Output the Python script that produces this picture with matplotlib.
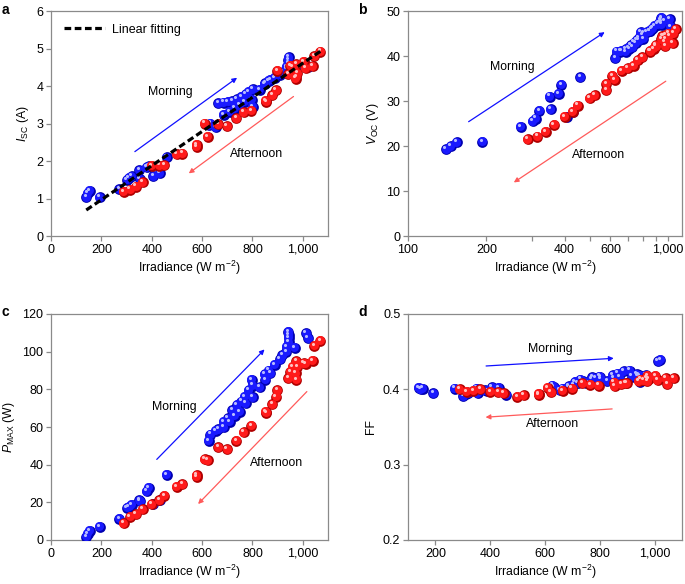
import numpy as np
import matplotlib
matplotlib.use("Agg")
import matplotlib.pyplot as plt
from matplotlib.transforms import offset_copy
from matplotlib.ticker import FixedLocator, NullFormatter

plt.rcParams['font.family'] = ['Liberation Sans', 'DejaVu Sans']
plt.rcParams['mathtext.fontset'] = 'custom'
plt.rcParams['mathtext.rm'] = 'Liberation Sans'
plt.rcParams['mathtext.it'] = 'Liberation Sans:italic'
plt.rcParams['font.size'] = 8.8

# ---------------- data ----------------
irr_morning = [140, 146, 154, 193, 271, 302, 310, 320, 351, 354, 380, 389, 407, 431, 459,
               627, 633, 654, 664, 686, 686, 703, 710, 720, 729, 739, 749, 756, 769, 773,
               786, 798, 802, 802, 828, 848, 851, 865, 871, 888, 910, 918, 934, 937, 942,
               945, 945, 945, 967, 1013, 1021]
isc_morning = [1.03, 1.14, 1.21, 1.04, 1.25, 1.50, 1.55, 1.60, 1.76, 1.51, 1.83, 1.86, 1.60, 1.67, 2.10,
               2.96, 3.00, 2.90, 3.54, 3.23, 3.56, 3.58, 3.31, 3.60, 3.40, 3.65, 3.49, 3.71, 3.58, 3.78,
               3.85, 3.63, 3.91, 3.45, 3.90, 4.05, 4.07, 4.14, 4.17, 4.22, 4.30, 4.36, 4.45, 4.51, 4.69,
               4.77, 4.60, 4.55, 4.48, 4.56, 4.50]
voc_morning = [19.3, 19.9, 20.8, 20.9, 24.3, 25.5, 26.1, 27.8, 31.0, 28.2, 31.6, 33.6, 26.5, 27.6, 35.3,
               39.5, 41.0, 41.0, 41.2, 40.9, 41.5, 41.8, 41.6, 42.4, 42.0, 43.0, 42.8, 43.5, 44.0, 43.5,
               45.3, 44.6, 45.2, 43.8, 45.3, 45.6, 45.5, 46.0, 46.2, 46.7, 47.0, 47.3, 47.5, 48.0, 48.5,
               48.3, 47.6, 47.0, 47.8, 48.2, 46.5]
pmax_morning = [1.8, 3.2, 4.8, 7.1, 11.2, 17.2, 17.6, 18.8, 21.2, 20.5, 26.0, 27.8, 19.1, 21.2, 34.7,
                52.6, 56.0, 58.0, 58.8, 60.0, 62.8, 64.6, 62.8, 69.0, 66.0, 71.7, 68.0, 73.5, 76.0, 72.6,
                79.6, 85.0, 82.0, 75.8, 81.0, 88.0, 85.0, 90.0, 88.5, 93.0, 96.0, 98.0, 100.0, 102.6, 110.6,
                109.0, 107.4, 105.0, 102.0, 109.7, 107.0]
ff_morning = [0.402, 0.400, 0.401, 0.395, 0.401, 0.391, 0.394, 0.395, 0.401, 0.395, 0.399, 0.398, 0.403, 0.402, 0.393,
              0.405, 0.403, 0.399, 0.401, 0.404, 0.403, 0.406, 0.410, 0.408, 0.413, 0.411, 0.409, 0.408, 0.413, 0.416,
              0.415, 0.417, 0.416, 0.413, 0.411, 0.419, 0.415, 0.421, 0.416, 0.424, 0.425, 0.417, 0.420, 0.417, 0.419,
              0.413, 0.410, 0.418, 0.419, 0.437, 0.439]

irr_afternoon = [288, 314, 338, 364, 400, 430, 450, 499, 522, 578, 578, 610, 622, 664, 699,
                 736, 765, 796, 852, 855, 879, 894, 899, 942, 950, 960, 971, 974, 974, 978,
                 1003, 1011, 1040, 1046, 1070]
isc_afternoon = [1.18, 1.24, 1.32, 1.43, 1.87, 1.88, 1.89, 2.18, 2.20, 2.43, 2.38, 3.00, 2.65, 2.98, 2.93,
                 3.14, 3.30, 3.34, 3.61, 3.58, 3.76, 3.89, 4.41, 4.31, 4.54, 4.50, 4.20, 4.58, 4.25, 4.34,
                 4.65, 4.47, 4.53, 4.80, 4.92]
voc_afternoon = [21.5, 22.1, 23.2, 24.7, 26.5, 27.6, 29.0, 30.6, 31.3, 33.8, 32.4, 35.6, 34.7, 36.7, 37.3,
                 37.8, 39.1, 39.7, 41.2, 41.0, 41.6, 42.4, 42.2, 43.7, 44.4, 44.4, 43.2, 42.2, 44.6, 43.7,
                 45.0, 44.5, 42.8, 45.0, 45.9]
pmax_afternoon = [8.8, 12.4, 13.8, 16.3, 19.1, 21.2, 23.4, 28.3, 29.6, 34.5, 33.6, 42.8, 42.4, 49.2, 48.3,
                  52.6, 57.2, 60.7, 68.1, 67.6, 72.2, 76.1, 79.6, 85.8, 89.4, 92.0, 88.5, 95.0, 85.0, 92.0,
                  93.8, 93.5, 95.2, 103.2, 105.8]
ff_afternoon = [0.400, 0.397, 0.398, 0.400, 0.397, 0.396, 0.395, 0.390, 0.392, 0.393, 0.394, 0.402, 0.396, 0.398, 0.401,
                0.408, 0.406, 0.405, 0.409, 0.404, 0.407, 0.408, 0.408, 0.411, 0.413, 0.412, 0.415, 0.418, 0.411, 0.414,
                0.418, 0.412, 0.415, 0.407, 0.415]

BLUE = ('#0000b0', '#1a1aff', '#b8bcff')
RED = ('#b00000', '#ff1a1a', '#ffc0c0')
ARROW_BLUE = '#1010ff'
ARROW_RED = '#ff5a5a'

fig = plt.figure(figsize=(6.85, 5.84), dpi=100)
W, H = 685, 584


def axes_px(l, r, t, b):
    return fig.add_axes([l / W, 1 - b / H, (r - l) / W, (b - t) / H])


def spheres(ax, x, y, cols):
    dark, base, light = cols
    ax.scatter(x, y, s=60, color=dark, linewidths=0, zorder=3)
    t1 = offset_copy(ax.transData, fig=fig, x=-0.35, y=0.35, units='points')
    ax.scatter(x, y, s=42, color=base, linewidths=0, zorder=3, transform=t1)
    t2 = offset_copy(ax.transData, fig=fig, x=-1.2, y=1.5, units='points')
    ax.scatter(x, y, s=5, color=light, linewidths=0, zorder=3, transform=t2)


def style(ax):
    for s in ax.spines.values():
        s.set_color('#8a8a8a')
        s.set_linewidth(0.9)
    ax.tick_params(which='both', direction='out', color='#8a8a8a', labelsize=9,
                   top=False, right=False, length=3.5, width=0.9, pad=2)


def arrow(ax, start, end, color):
    ax.annotate('', xy=end, xytext=start,
                arrowprops=dict(arrowstyle='-|>', color=color, lw=0.9,
                                mutation_scale=7, shrinkA=0, shrinkB=0), zorder=2)


def both(ax, ym, ya):
    spheres(ax, irr_morning, ym, BLUE)
    spheres(ax, irr_afternoon, ya, RED)


xt = [0, 200, 400, 600, 800, 1000]
xtl = ['0', '200', '400', '600', '800', '1,000']
xlab = 'Irradiance (W m$^{-2}$)'

# ---- a ----
axa = axes_px(51, 328, 11, 236)
both(axa, isc_morning, isc_afternoon)
all_irr = np.array(irr_morning + irr_afternoon, dtype=float)
all_isc = np.array(isc_morning + isc_afternoon, dtype=float)
k, b0 = np.polyfit(all_irr, all_isc, 1)
xf = np.array([all_irr.min(), all_irr.max()])
axa.plot(xf, k * xf + b0, color='black', lw=2.3, dashes=(2.1, 1.1), zorder=4,
         label='Linear fitting')
axa.legend(loc='upper left', frameon=False, handlelength=3.3, fontsize=9,
           borderaxespad=0.6, handletextpad=0.6)
axa.set_xlim(0, 1100)
axa.set_ylim(0, 6)
axa.set_xticks(xt)
axa.set_xticklabels(xtl)
axa.set_yticks(range(0, 7))
axa.set_xlabel(xlab, labelpad=2)
axa.set_ylabel(r'$I_{\mathrm{SC}}$ (A)', labelpad=4)
arrow(axa, (333, 2.25), (739, 4.22), ARROW_BLUE)
arrow(axa, (963, 3.72), (547, 1.67), ARROW_RED)
axa.text(474, 3.85, 'Morning', ha='center', va='center')
axa.text(815, 2.2, 'Afternoon', ha='center', va='center')
style(axa)

# ---- b ----
axb = axes_px(408, 682, 11, 236)
both(axb, voc_morning, voc_afternoon)
axb.set_xscale('log')
axb.set_xlim(100, 1130)
axb.set_ylim(0, 50)
axb.xaxis.set_major_locator(FixedLocator([100, 200, 400, 600, 1000]))
axb.xaxis.set_minor_locator(FixedLocator([300, 500, 700, 800, 900]))
axb.xaxis.set_minor_formatter(NullFormatter())
axb.set_xticklabels(['100', '200', '400', '600', '1,000'])
axb.set_yticks(range(0, 51, 10))
axb.set_xlabel(xlab, labelpad=2)
axb.set_ylabel(r'$V_{\mathrm{OC}}$ (V)', labelpad=4)
arrow(axb, (171, 25.4), (570, 45.3), ARROW_BLUE)
arrow(axb, (979, 34.4), (255, 11.9), ARROW_RED)
axb.text(252, 37.6, 'Morning', ha='center', va='center')
axb.text(542, 18.0, 'Afternoon', ha='center', va='center')
style(axb)

# ---- c ----
axc = axes_px(51, 328, 314, 540)
both(axc, pmax_morning, pmax_afternoon)
axc.set_xlim(0, 1100)
axc.set_ylim(0, 120)
axc.set_xticks(xt)
axc.set_xticklabels(xtl)
axc.set_yticks(range(0, 121, 20))
axc.set_xlabel(xlab, labelpad=2)
axc.set_ylabel(r'$P_{\mathrm{MAX}}$ (W)', labelpad=4)
arrow(axc, (420, 42.8), (848, 101.2), ARROW_BLUE)
arrow(axc, (1016, 78.8), (584, 19.1), ARROW_RED)
axc.text(488, 70.8, 'Morning', ha='center', va='center')
axc.text(897, 41.0, 'Afternoon', ha='center', va='center')
style(axc)

# ---- d ----
axd = axes_px(408, 682, 314, 540)
both(axd, ff_morning, ff_afternoon)
axd.set_xlim(100, 1100)
axd.set_ylim(0.2, 0.5)
axd.set_xticks(xt[1:])
axd.set_xticklabels(xtl[1:])
axd.set_yticks([0.2, 0.3, 0.4, 0.5])
axd.set_yticklabels(['0.2', '0.3', '0.4', '0.5'])
axd.set_xlabel(xlab, labelpad=2)
axd.set_ylabel('FF', labelpad=4)
arrow(axd, (385, 0.431), (851, 0.4412), ARROW_BLUE)
arrow(axd, (845, 0.374), (383, 0.363), ARROW_RED)
axd.text(618, 0.453, 'Morning', ha='center', va='center')
axd.text(626, 0.354, 'Afternoon', ha='center', va='center')
style(axd)

for lab, (px, py) in zip('abcd', [(2, 10), (358, 10), (2, 312), (358, 312)]):
    fig.text(px / W, 1 - py / H, lab, fontsize=10, fontweight='bold', ha='left', va='center')

fig.savefig('out.png', dpi=100)
